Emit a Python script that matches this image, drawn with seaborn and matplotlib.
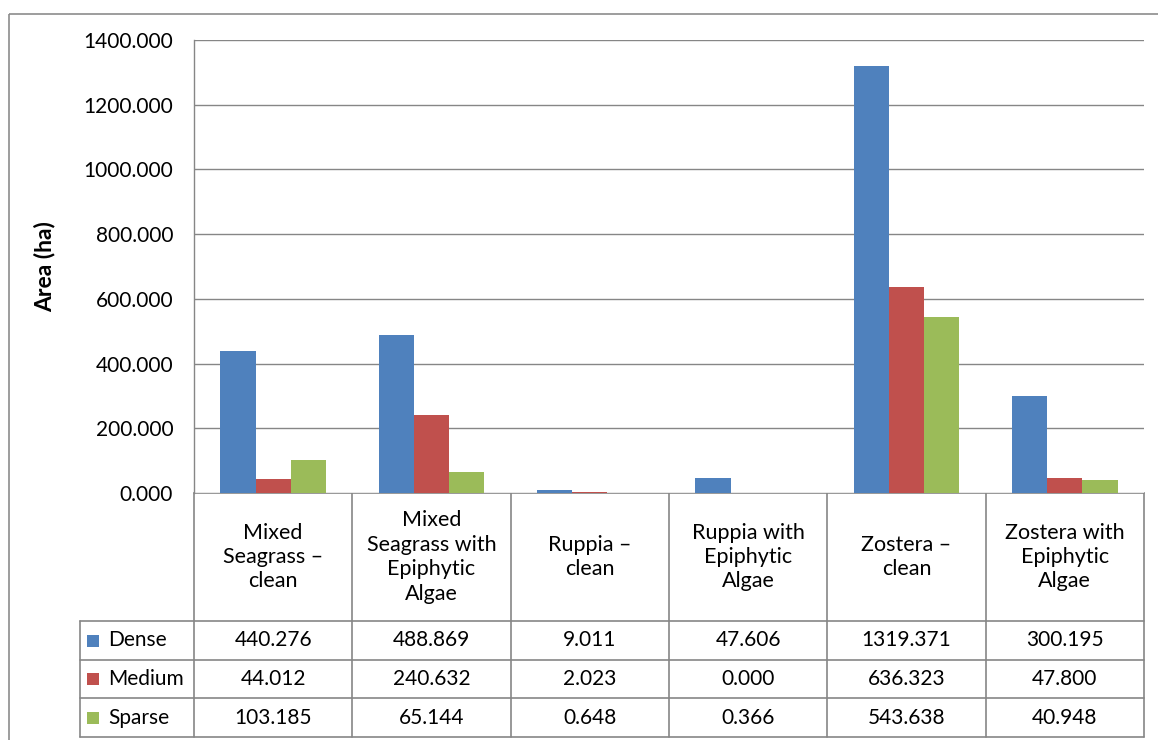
import textwrap
import numpy as np
import pandas as pd
import matplotlib
matplotlib.use("Agg")
import matplotlib.pyplot as plt
from matplotlib.lines import Line2D
from matplotlib.patches import Rectangle
from matplotlib.transforms import blended_transform_factory
import seaborn as sns

# Seagrass mapped area by class and density
categories = [
    "Mixed Seagrass – clean",
    "Mixed Seagrass with Epiphytic Algae",
    "Ruppia – clean",
    "Ruppia with Epiphytic Algae",
    "Zostera – clean",
    "Zostera with Epiphytic Algae",
]
series = ["Dense", "Medium", "Sparse"]
dense = [440.276, 488.869, 9.011, 47.606, 1319.371, 300.195]
medium = [44.012, 240.632, 2.023, 0.000, 636.323, 47.800]
sparse = [103.185, 65.144, 0.648, 0.366, 543.638, 40.948]
colors = ["#4F81BD", "#C0504D", "#9BBB59"]
y_ticks = [0, 200, 400, 600, 800, 1000, 1200, 1400]

values = {"Dense": dense, "Medium": medium, "Sparse": sparse}
df = pd.DataFrame(
    [(c, s, values[s][i]) for s in series for i, c in enumerate(categories)],
    columns=["Category", "Density", "Area"],
)

sns.set_theme(style="white")
plt.rcParams["font.family"] = ["Lato", "DejaVu Sans"]

W, H = 1158, 740
fig = plt.figure(figsize=(W / 100, H / 100), dpi=100)
grid_col = "#868686"
text_col = "#000000"
fs = 15

# pixel-space overlay for the frame and the data table
tab = fig.add_axes([0, 0, 1, 1])
tab.set_xlim(0, W)
tab.set_ylim(H, 0)
tab.axis("off")

L, R, T, B = 194, 1144, 40, 493
ax = fig.add_axes([L / W, (H - B) / H, (R - L) / W, (B - T) / H])
sns.barplot(
    data=df, x="Category", y="Area", hue="Density", palette=colors,
    width=2 / 3, saturation=1, linewidth=0, ax=ax, legend=False,
)
ax.set_xlim(-0.5, len(categories) - 0.5)
ax.set_ylim(0, 1400)
ax.set_yticks(y_ticks)
ax.set_yticklabels([f"{v:.3f}" for v in y_ticks], fontsize=fs, color=text_col)
ax.tick_params(axis="y", length=0, pad=15)
ax.set_xticks([])
ax.set_xlabel("")
ax.grid(axis="y", color=grid_col, linewidth=1)
ax.set_axisbelow(True)
for side in ["top", "right", "bottom"]:
    ax.spines[side].set_visible(False)
ax.spines["left"].set_color(grid_col)
ax.spines["left"].set_linewidth(1)
ax.set_ylabel("Area (ha)", fontsize=16.5, fontweight="bold", color=text_col)
ax.yaxis.set_label_coords((55 - L) / (R - L), 0.5)

# outer chart frame
tab.add_patch(Rectangle((9, 14), W, H, fill=False, edgecolor="#8C8C8C", linewidth=1.2))

# data table below the plot
row_lines = [B, 621, 660, 698, 737]
legend_left = 80
lw = 1.2
tab.add_line(Line2D([L, R], [B, B], color=grid_col, lw=lw))
for y in row_lines[1:]:
    tab.add_line(Line2D([legend_left, R], [y, y], color=grid_col, lw=lw))
tab.add_line(Line2D([legend_left, legend_left], [row_lines[1], row_lines[-1]], color=grid_col, lw=lw))
trans = blended_transform_factory(ax.transData, tab.transData)
for k in range(len(categories) + 1):
    tab.add_line(Line2D([k - 0.5, k - 0.5], [B, row_lines[-1]], color=grid_col, lw=lw,
                        transform=trans))

for i, cat in enumerate(categories):
    tab.text(i, (B + row_lines[1]) / 2, textwrap.fill(cat, 13), transform=trans,
             ha="center", va="center", multialignment="center", fontsize=15.5,
             linespacing=1.28, color=text_col)

for r, (name, col) in enumerate(zip(series, colors)):
    yc = (row_lines[r + 1] + row_lines[r + 2]) / 2
    tab.add_patch(Rectangle((87, yc - 6), 12, 12, facecolor=col, edgecolor="none"))
    tab.text(108, yc, name, ha="left", va="center", fontsize=fs, color=text_col)
    for i, v in enumerate(values[name]):
        tab.text(i, yc, f"{v:.3f}", transform=trans, ha="center", va="center",
                 fontsize=fs, color=text_col)

fig.savefig("out.png", dpi=100)
